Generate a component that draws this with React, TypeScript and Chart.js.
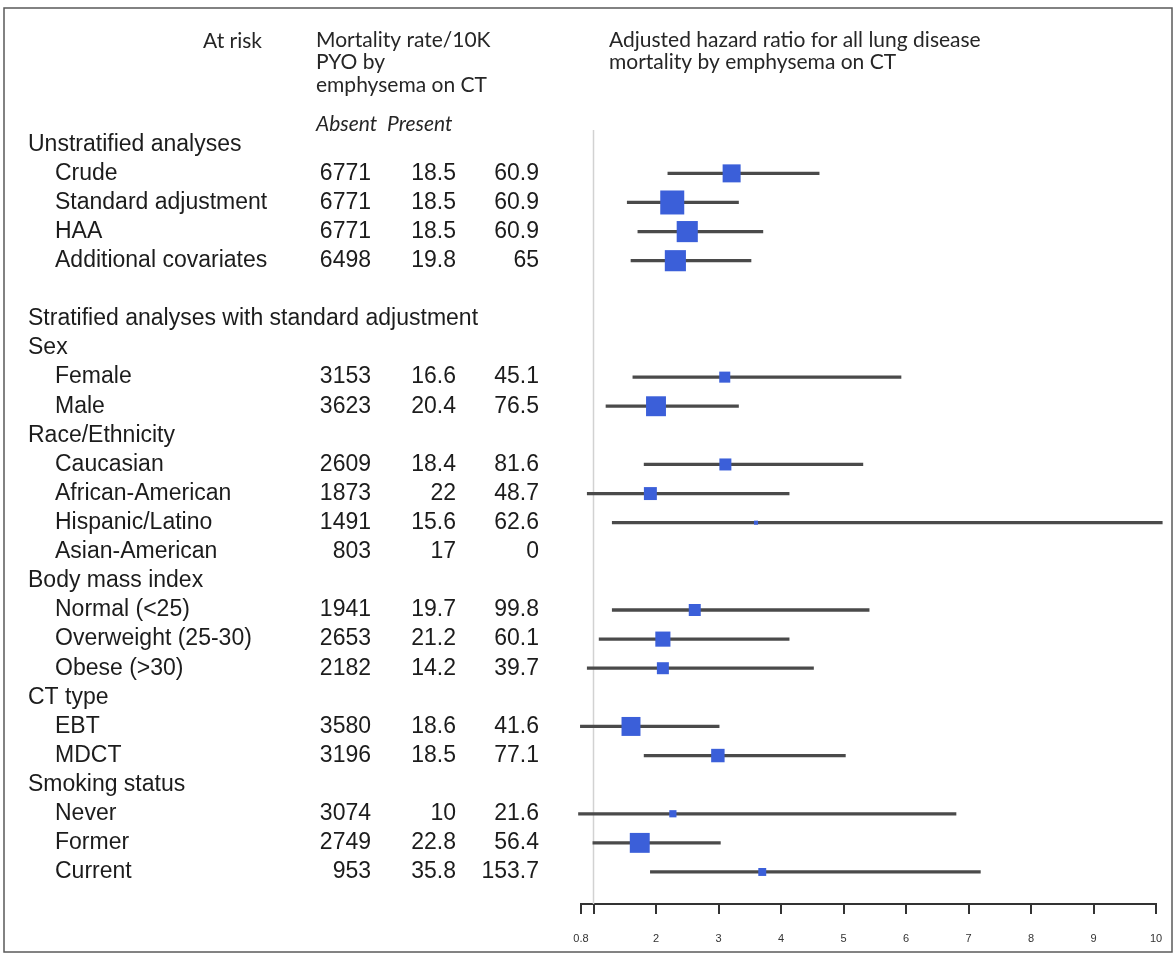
import React, { useEffect, useRef } from 'react';
import { Chart, registerables } from 'chart.js';

Chart.register(...registerables);

// ---------- data ----------
const rowLabels = [
  'Unstratified analyses',
  'Crude',
  'Standard adjustment',
  'HAA',
  'Additional covariates',
  '',
  'Stratified analyses with standard adjustment',
  'Sex',
  'Female',
  'Male',
  'Race/Ethnicity',
  'Caucasian',
  'African-American',
  'Hispanic/Latino',
  'Asian-American',
  'Body mass index',
  'Normal (<25)',
  'Overweight (25-30)',
  'Obese (>30)',
  'CT type',
  'EBT',
  'MDCT',
  'Smoking status',
  'Never',
  'Former',
  'Current',
];
// 0 = group heading, 1 = sub-item
const rowLevel = [0, 1, 1, 1, 1, 0, 0, 0, 1, 1, 0, 1, 1, 1, 1, 0, 1, 1, 1, 0, 1, 1, 0, 1, 1, 1];

const atRisk = [null, 6771, 6771, 6771, 6498, null, null, null, 3153, 3623, null, 2609, 1873, 1491, 803, null, 1941, 2653, 2182, null, 3580, 3196, null, 3074, 2749, 953];
const rateAbsent = [null, 18.5, 18.5, 18.5, 19.8, null, null, null, 16.6, 20.4, null, 18.4, 22, 15.6, 17, null, 19.7, 21.2, 14.2, null, 18.6, 18.5, null, 10, 22.8, 35.8];
const ratePresent = [null, 60.9, 60.9, 60.9, 65, null, null, null, 45.1, 76.5, null, 81.6, 48.7, 62.6, 0, null, 99.8, 60.1, 39.7, null, 41.6, 77.1, null, 21.6, 56.4, 153.7];

const hazardRatio = [null, 3.21, 2.26, 2.5, 2.31, null, null, null, 3.1, 2.0, null, 3.11, 1.91, 3.6, null, null, 2.62, 2.11, 2.11, null, 1.6, 2.99, null, 2.27, 1.74, 3.7];
const ciLow = [null, 2.19, 1.54, 1.71, 1.6, null, null, null, 1.63, 1.2, null, 1.81, 0.9, 1.3, null, null, 1.3, 1.09, 0.9, null, 0.79, 1.81, null, 0.76, 0.99, 1.91];
const ciHigh = [null, 4.61, 3.32, 3.71, 3.52, null, null, null, 5.92, 3.32, null, 5.31, 4.13, 10.1, null, null, 5.41, 4.13, 4.52, null, 3.01, 5.03, null, 6.8, 3.03, 7.19];
// relative box weight (1 = largest box)
const boxWeight = [null, 0.75, 1, 0.88, 0.88, null, null, null, 0.46, 0.83, null, 0.5, 0.54, 0.17, null, null, 0.5, 0.63, 0.5, null, 0.79, 0.56, null, 0.3, 0.83, 0.33];

const xTickValues = [0.8, 1, 2, 3, 4, 5, 6, 7, 8, 9, 10];
const unlabeledTicks = [1];
const referenceValue = 1;

const headerAtRisk = 'At risk';
const headerRate = ['Mortality rate/10K', 'PYO by', 'emphysema on CT'];
const headerHR = ['Adjusted hazard ratio for all lung disease', 'mortality by emphysema on CT'];
const subHeaders = ['Absent', 'Present'];

// ---------- layout constants ----------
const W = 1176;
const H = 956;
const Y_MIN = -0.49;
const Y_MAX = 26.1;
const MAX_BOX = 24;

const BLUE = '#3b5fd9';
const CI_GREY = '#4a4a4a';

export default function App() {
  const ref = useRef<HTMLCanvasElement>(null);

  useEffect(() => {
    const canvas = ref.current;
    if (!canvas) return;

    const rowIdx = rowLabels.map((_, i) => i).filter((i) => hazardRatio[i] != null);

    const tablePlugin = {
      id: 'forestTable',
      afterDraw(chart: any) {
        const ctx = chart.ctx as CanvasRenderingContext2D;
        const ys = chart.scales.y;
        ctx.save();
        // frame
        ctx.strokeStyle = '#5a5a5a';
        ctx.lineWidth = 1.5;
        ctx.strokeRect(4, 8, W - 8, H - 12);

        // headers
        ctx.fillStyle = '#262626';
        ctx.textBaseline = 'middle';
        ctx.font = '21px Lato';
        ctx.textAlign = 'right';
        ctx.fillText(headerAtRisk, 262, 41);
        ctx.textAlign = 'left';
        headerRate.forEach((t, k) => ctx.fillText(t, 316, 40 + k * 22.5));
        headerHR.forEach((t, k) => ctx.fillText(t, 609, 40 + k * 22.5));
        ctx.font = 'italic 21px Lato';
        ctx.fillText(subHeaders[0], 316, 124);
        ctx.fillText(subHeaders[1], 387, 124);

        // table rows
        ctx.fillStyle = '#1c1c1c';
        ctx.font = '23px "Liberation Sans", Arial, sans-serif';
        rowLabels.forEach((label, i) => {
          const y = ys.getPixelForValue(i);
          ctx.textAlign = 'left';
          if (label) ctx.fillText(label, rowLevel[i] === 0 ? 28 : 55, y);
          ctx.textAlign = 'right';
          if (atRisk[i] != null) ctx.fillText(String(atRisk[i]), 371, y);
          if (rateAbsent[i] != null) ctx.fillText(String(rateAbsent[i]), 456, y);
          if (ratePresent[i] != null) ctx.fillText(String(ratePresent[i]), 539, y);
        });
        ctx.restore();
      },
    };

    const chart = new Chart(canvas, {
      type: 'bar',
      data: {
        datasets: [
          {
            type: 'scatter',
            label: 'HR',
            order: 0,
            data: rowIdx.map((i) => ({ x: hazardRatio[i] as number, y: i })),
            pointStyle: 'rect',
            pointRadius: rowIdx.map((i) => ((boxWeight[i] as number) * MAX_BOX) / Math.SQRT2),
            pointHoverRadius: rowIdx.map((i) => ((boxWeight[i] as number) * MAX_BOX) / Math.SQRT2),
            backgroundColor: BLUE,
            borderWidth: 0,
            clip: false,
          } as any,
          {
            type: 'bar',
            label: 'CI',
            order: 1,
            data: rowIdx.map((i) => ({ x: [ciLow[i], ciHigh[i]], y: i })),
            backgroundColor: CI_GREY,
            borderWidth: 0,
            barThickness: 2.6,
            clip: false,
          } as any,
          {
            type: 'line',
            label: 'ref',
            order: 2,
            data: [
              { x: referenceValue, y: Y_MIN },
              { x: referenceValue, y: Y_MAX },
            ],
            borderColor: '#d2d2d2',
            borderWidth: 1.5,
            pointRadius: 0,
            fill: false,
          } as any,
        ],
      },
      options: {
        indexAxis: 'y',
        responsive: false,
        animation: false,
        devicePixelRatio: 1,
        layout: { padding: { left: 581, right: 20, top: 130, bottom: 11 } },
        plugins: {
          legend: { display: false },
          tooltip: { enabled: false },
          title: { display: false },
        },
        scales: {
          x: {
            type: 'linear',
            min: 0.8,
            max: 10,
            offset: false,
            afterBuildTicks: (axis: any) => {
              axis.ticks = xTickValues.map((v) => ({ value: v }));
            },
            afterFit: (axis: any) => {
              axis.height = 41;
              axis.paddingLeft = 0;
              axis.paddingRight = 0;
            },
            ticks: {
              autoSkip: false,
              maxRotation: 0,
              padding: 18,
              color: '#333',
              font: { size: 11, family: '"Liberation Sans", Arial, sans-serif' },
              callback: (v: any) => (unlabeledTicks.includes(Number(v)) ? '' : String(v)),
            },
            grid: { drawOnChartArea: false, drawTicks: true, tickLength: 10, color: '#333', lineWidth: 2, offset: false },
            border: { display: true, color: '#333', width: 2 },
          },
          y: {
            type: 'linear',
            reverse: true,
            min: Y_MIN,
            max: Y_MAX,
            offset: false,
            grid: { offset: false },
            display: false,
          },
        },
      } as any,
      plugins: [tablePlugin],
    });

    return () => chart.destroy();
  }, []);

  return (
    <div style={{ position: 'absolute', left: 0, top: 0, width: W, height: H, background: '#fff' }}>
      <canvas ref={ref} width={W} height={H} style={{ display: 'block' }} />
    </div>
  );
}
